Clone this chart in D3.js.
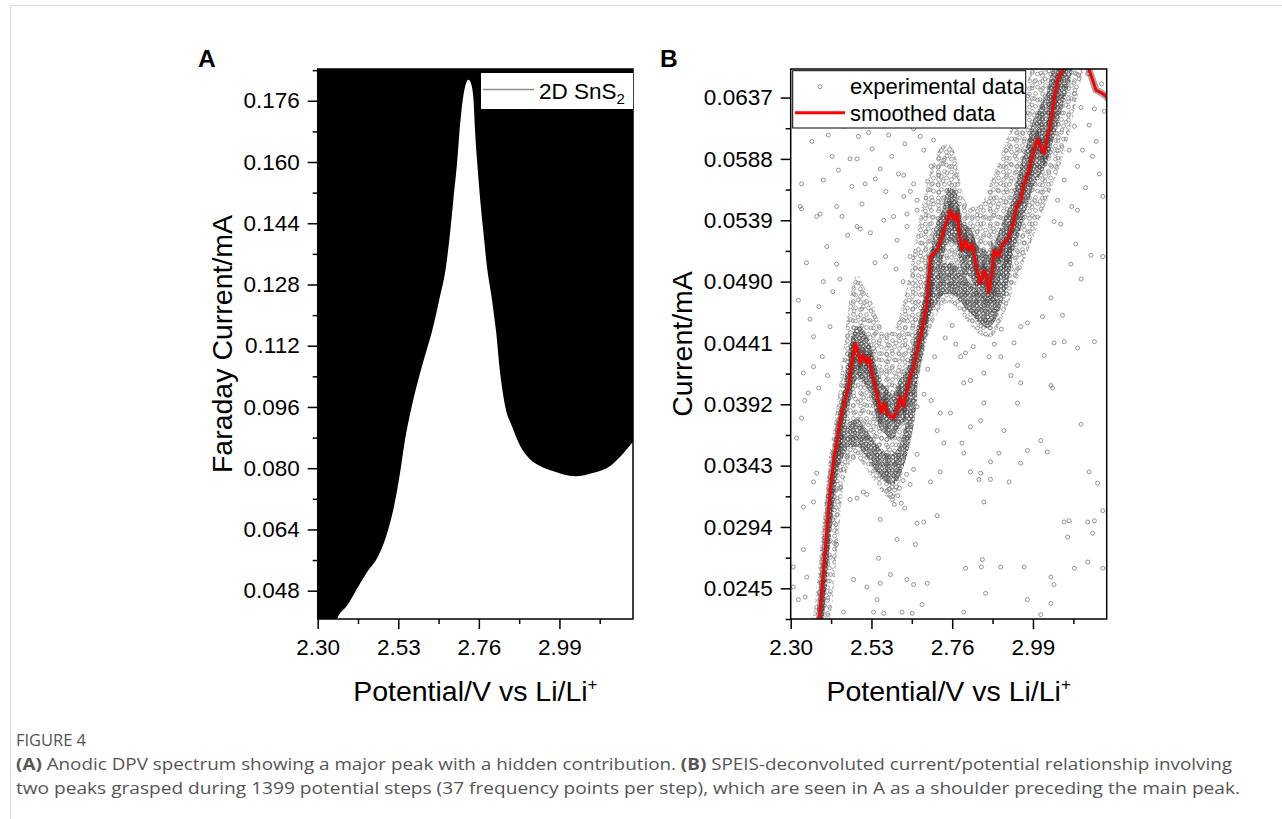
<!DOCTYPE html>
<html>
<head>
<meta charset="utf-8">
<script src="https://cdn.jsdelivr.net/npm/d3@7"></script>
<style>
  body { margin: 0; background: #fff; }
  svg { display: block; }
</style>
</head>
<body>
<svg id="fig" width="1282" height="819"></svg>
<script>
// ---- data ----
const xTicks = [2.30, 2.53, 2.76, 2.99];
const yTicksA = [0.048, 0.064, 0.080, 0.096, 0.112, 0.128, 0.144, 0.160, 0.176];
const yTicksB = [0.0245, 0.0294, 0.0343, 0.0392, 0.0441, 0.0490, 0.0539, 0.0588, 0.0637];

// panel A: anodic DPV curve (V, mA)
const dpvX = [2.300, 2.330, 2.3589, 2.3829, 2.4114, 2.4400, 2.4731, 2.4923, 2.5180, 2.5351, 2.5494, 2.5686,
  2.5923, 2.6037, 2.6257, 2.6474, 2.6666, 2.6780, 2.6874, 2.6971, 2.7046, 2.7143, 2.7222, 2.7303,
  2.7380, 2.7446, 2.7494, 2.7560, 2.7637, 2.7731, 2.7828, 2.7971, 2.8094, 2.8208, 2.8351, 2.8543,
  2.8780, 2.9066, 2.9351, 2.9731, 3.0351, 3.0874, 3.1351, 3.1731, 3.2017];
const dpvY = [0.0290, 0.0340, 0.0414, 0.0440, 0.0484, 0.0527, 0.0571, 0.0614, 0.0701, 0.0788, 0.0875, 0.0962,
  0.1049, 0.1086, 0.1155, 0.1242, 0.1329, 0.1416, 0.1503, 0.1590, 0.1677, 0.1764, 0.1802, 0.1815,
  0.1804, 0.1764, 0.1677, 0.1590, 0.1503, 0.1416, 0.1329, 0.1242, 0.1155, 0.1049, 0.0962, 0.0910,
  0.0858, 0.0823, 0.0806, 0.0792, 0.0779, 0.0788, 0.0806, 0.0840, 0.0871];

// panel B: smoothed current (V, mA)
const smoothX = [2.378, 2.3817, 2.3931, 2.4046, 2.4123, 2.4237, 2.4314, 2.4409, 2.4503, 2.4646, 2.4743, 2.4837,
  2.4931, 2.498, 2.5074, 2.5171, 2.5237, 2.5314, 2.5409, 2.5503, 2.5571, 2.5666, 2.5743, 2.5837,
  2.5931, 2.6028, 2.6123, 2.6217, 2.6294, 2.6409, 2.6503, 2.66, 2.6694, 2.6789, 2.6886, 2.698,
  2.7074, 2.7217, 2.736, 2.7551, 2.7646, 2.7743, 2.7817, 2.7886, 2.798, 2.8074, 2.8171, 2.8266,
  2.8409, 2.8503, 2.858, 2.8646, 2.8743, 2.8788, 2.8931, 2.9028, 2.9171, 2.9314, 2.9457, 2.9551,
  2.9646, 2.9789, 2.9931, 3.0028, 3.0123, 3.0217, 3.0314, 3.0409, 3.0503, 3.06, 3.0743, 3.081,
  3.110, 3.1437, 3.1503, 3.16, 3.1694, 3.1837, 3.198, 3.204];
const smoothY = [0.0215, 0.0220, 0.0257, 0.0297, 0.0323, 0.0350, 0.0361, 0.0379, 0.0390, 0.0406, 0.0425, 0.0441,
  0.0433, 0.0425, 0.0431, 0.0425, 0.0429, 0.0417, 0.0406, 0.0395, 0.0385, 0.0393, 0.0385, 0.0383,
  0.0381, 0.0387, 0.0398, 0.0390, 0.0401, 0.0414, 0.0422, 0.0435, 0.0446, 0.0459, 0.0473, 0.0510,
  0.0512, 0.0518, 0.0531, 0.0547, 0.0539, 0.0544, 0.0526, 0.0515, 0.0523, 0.0515, 0.0520, 0.0504,
  0.0488, 0.0499, 0.0494, 0.0481, 0.0499, 0.0515, 0.0510, 0.0520, 0.0523, 0.0534, 0.0552, 0.0555,
  0.0568, 0.0579, 0.0595, 0.0604, 0.0598, 0.0592, 0.0606, 0.0617, 0.0635, 0.0651, 0.0659, 0.0665,
  0.0690, 0.0667, 0.0659, 0.0651, 0.0643, 0.0641, 0.0638, 0.0636];

// panel B: envelope of the whole point cloud (mA)
const cloudX = [2.36, 2.37, 2.39, 2.41, 2.43, 2.45, 2.47, 2.49, 2.51, 2.53, 2.55, 2.57, 2.59, 2.61,
  2.63, 2.65, 2.67, 2.69, 2.71, 2.73, 2.75, 2.77, 2.79, 2.81, 2.83, 2.85, 2.87, 2.89, 2.91, 2.93,
  2.95, 2.97, 2.99, 3.01, 3.03, 3.05, 3.07, 3.09, 3.11, 3.13, 3.14];
const cloudLo = [0.0215, 0.0215, 0.0215, 0.0215, 0.0270, 0.0325, 0.0345, 0.0348, 0.0342, 0.0334, 0.0326, 0.0319,
  0.0316, 0.0328, 0.0353, 0.0385, 0.0420, 0.0445, 0.0460, 0.0470, 0.0473, 0.0470, 0.0463, 0.0456,
  0.0450, 0.0446, 0.0446, 0.0453, 0.0466, 0.0480, 0.0495, 0.0510, 0.0525, 0.0540, 0.0555, 0.0570,
  0.0585, 0.0605, 0.0630, 0.0655, 0.0670];
const cloudHi = [0.0218, 0.0235, 0.0295, 0.0350, 0.0388, 0.0435, 0.0480, 0.0495, 0.0485, 0.0475, 0.0460, 0.0450,
  0.0450, 0.0463, 0.0485, 0.0515, 0.0545, 0.0570, 0.0588, 0.0598, 0.0600, 0.0590, 0.0560, 0.0550,
  0.0550, 0.0555, 0.0570, 0.0585, 0.0600, 0.0615, 0.0630, 0.0645, 0.0665, 0.0670, 0.0670, 0.0670,
  0.0670, 0.0670, 0.0670, 0.0670, 0.0670];

// panel B: dense core that follows the smoothed line (mA)
const coreX = [2.375, 2.39, 2.41, 2.43, 2.45, 2.47, 2.49, 2.51, 2.53, 2.55, 2.57, 2.59, 2.61, 2.63,
  2.65, 2.67, 2.69, 2.71, 2.73, 2.75, 2.77, 2.79, 2.81, 2.83, 2.85, 2.87, 2.89, 2.91, 2.93, 2.95,
  2.97, 2.99, 3.01, 3.03, 3.05, 3.07, 3.09, 3.11, 3.12];
const coreLo = [0.0215, 0.0215, 0.0275, 0.0328, 0.0365, 0.0395, 0.0412, 0.0408, 0.0397, 0.0375, 0.0368, 0.0363,
  0.0375, 0.0380, 0.0400, 0.0424, 0.0452, 0.0490, 0.0504, 0.0522, 0.0520, 0.0496, 0.0494, 0.0480,
  0.0476, 0.0472, 0.0488, 0.0500, 0.0510, 0.0528, 0.0546, 0.0565, 0.0575, 0.0585, 0.0605, 0.0625,
  0.0645, 0.0665, 0.0670];
const coreHi = [0.0218, 0.0260, 0.0325, 0.0370, 0.0405, 0.0442, 0.0455, 0.0450, 0.0438, 0.0416, 0.0406, 0.0400,
  0.0412, 0.0420, 0.0442, 0.0466, 0.0496, 0.0532, 0.0546, 0.0565, 0.0562, 0.0536, 0.0534, 0.0520,
  0.0516, 0.0512, 0.0528, 0.0542, 0.0555, 0.0578, 0.0598, 0.0618, 0.0630, 0.0642, 0.0665, 0.0670,
  0.0670, 0.0670, 0.0670];

// panel B: the two lower "shadow" branches of the cloud (mA)
const ghost1X = [2.43, 2.45, 2.47, 2.49, 2.51, 2.53, 2.55, 2.57, 2.59, 2.61, 2.63, 2.65, 2.66];
const ghost1Lo = [0.0335, 0.0350, 0.0358, 0.0358, 0.0352, 0.0344, 0.0336, 0.0330, 0.0328, 0.0334, 0.0350, 0.0375, 0.0395];
const ghost1Hi = [0.0355, 0.0370, 0.0378, 0.0380, 0.0374, 0.0366, 0.0358, 0.0353, 0.0352, 0.0360, 0.0378, 0.0405, 0.0420];
const ghost2X = [2.68, 2.70, 2.72, 2.74, 2.76, 2.78, 2.80, 2.82, 2.84, 2.86, 2.88, 2.90, 2.92, 2.93];
const ghost2Lo = [0.0450, 0.0465, 0.0474, 0.0480, 0.0480, 0.0475, 0.0468, 0.0462, 0.0456, 0.0453, 0.0458, 0.0472, 0.0490, 0.0505];
const ghost2Hi = [0.0472, 0.0488, 0.0498, 0.0505, 0.0505, 0.0500, 0.0493, 0.0486, 0.0480, 0.0478, 0.0485, 0.0500, 0.0520, 0.0530];

// panel B: individual scattered experimental points (V, mA)
const expPoints = [
  [2.384,0.0645],[2.360,0.0602],[2.407,0.0607],[2.493,0.0606],[2.522,0.0609],[2.579,0.0607],[2.469,0.0588],
  [2.489,0.0588],[2.555,0.0580],[2.436,0.0579],[2.331,0.0568],[2.393,0.0571],[2.474,0.0566],[2.512,0.0568],
  [2.622,0.0575],[2.607,0.0576],[2.431,0.0550],[2.446,0.0542],[2.384,0.0544],[2.331,0.0548],[2.498,0.0532],
  [2.622,0.0558],[2.641,0.0562],[2.660,0.0555],[2.650,0.0568],[2.593,0.0542],[2.631,0.0544],[2.679,0.0595],
  [2.707,0.0603],[2.736,0.0587],[2.669,0.0606],[2.545,0.0624],[2.598,0.0617],[2.532,0.0596],[2.452,0.0614],
  [2.352,0.0633],[2.418,0.0590],[2.571,0.0562],[2.503,0.0552],[2.462,0.0527],[2.541,0.0572],[2.588,0.0590],
  [2.625,0.0600],[2.650,0.0612],[2.700,0.0582],[2.690,0.0570],[2.720,0.0575],
  [3.131,0.0595],[3.160,0.0590],[3.189,0.0558],[3.179,0.0576],[3.193,0.0626],[3.165,0.0628],[3.127,0.0629],
  [3.108,0.0614],[3.117,0.0582],[3.079,0.0571],[3.093,0.0595],[3.146,0.0656],[3.108,0.0640],[3.150,0.0615],
  [3.170,0.0602],[3.100,0.0550],[3.060,0.0555],[3.050,0.0538],[3.140,0.0565],[3.185,0.0648],[3.120,0.0655],
  [2.327,0.0550],[2.374,0.0542],[2.393,0.0490],[2.322,0.0475],[2.365,0.0446],[2.412,0.0454],[2.336,0.0417],
  [2.350,0.0401],[2.365,0.0422],[2.331,0.0381],[2.403,0.0518],[2.431,0.0504],[2.489,0.0534],[2.527,0.0529],
  [2.565,0.0539],[2.603,0.0523],[2.631,0.0534],[2.660,0.0547],[2.345,0.0505],[2.380,0.0470],[2.420,0.0482],
  [2.440,0.0492],[2.355,0.0460],[2.390,0.0430],[2.405,0.0415],[2.340,0.0395],[2.380,0.0405],[2.570,0.0510],
  [2.600,0.0500],[2.540,0.0505],[2.620,0.0490],[2.640,0.0510],
  [3.117,0.0547],[3.069,0.0536],[3.098,0.0504],[3.155,0.0511],[3.189,0.0510],[3.112,0.0520],[3.127,0.0492],
  [3.041,0.0477],[3.074,0.0463],[3.017,0.0462],[2.974,0.0457],[2.955,0.0454],[2.936,0.0441],[3.050,0.0441],
  [3.079,0.0442],[3.117,0.0437],[3.165,0.0442],[2.898,0.0430],[2.946,0.0423],[3.022,0.0431],[3.041,0.0407],
  [3.046,0.0405],[2.955,0.0409],[2.927,0.0415],[2.850,0.0417],[2.812,0.0411],[2.793,0.0409],[2.850,0.0393],
  [2.946,0.0393],[2.784,0.0430],[2.798,0.0433],[2.865,0.0430],[2.755,0.0385],[2.812,0.0374],[2.726,0.0385],
  [2.717,0.0371],[2.841,0.0379],[2.907,0.0371],[3.012,0.0363],[3.127,0.0376],[2.740,0.0445],[2.770,0.0440],
  [2.820,0.0438],[2.880,0.0440],[2.900,0.0452],[2.760,0.0455],[2.710,0.0430],[2.690,0.0420],[2.680,0.0400],
  [2.700,0.0395],[2.660,0.0390],
  [2.317,0.0365],[2.365,0.0330],[2.374,0.0337],[2.336,0.0310],[2.365,0.0314],[2.307,0.0262],[2.336,0.0276],
  [2.346,0.0254],[2.322,0.0236],[2.341,0.0238],[2.307,0.0246],[2.469,0.0316],[2.489,0.0317],[2.507,0.0322],
  [2.517,0.0320],[2.555,0.0300],[2.603,0.0284],[2.655,0.0280],[2.660,0.0297],[2.679,0.0298],[2.717,0.0303],
  [2.726,0.0338],[2.698,0.0330],[2.736,0.0361],[2.788,0.0361],[2.793,0.0353],[2.841,0.0337],[2.869,0.0346],
  [2.893,0.0353],[2.922,0.0330],[2.850,0.0314],[2.846,0.0268],[2.843,0.0262],[2.898,0.0262],[2.798,0.0261],
  [2.855,0.0241],[2.793,0.0226],[2.536,0.0226],[2.546,0.0236],[2.517,0.0246],[2.555,0.0249],[2.584,0.0256],
  [2.631,0.0252],[2.650,0.0248],[2.689,0.0249],[2.674,0.0232],[2.646,0.0225],[2.617,0.0226],[2.565,0.0225],
  [2.450,0.0226],[2.479,0.0252],[2.550,0.0269],[2.965,0.0262],[2.974,0.0236],[3.012,0.0224],[3.041,0.0254],
  [3.050,0.0248],[3.041,0.0233],[3.108,0.0261],[3.146,0.0266],[3.189,0.0261],[3.079,0.0298],[3.093,0.0299],
  [3.089,0.0286],[3.146,0.0298],[3.165,0.0299],[3.160,0.0289],[3.189,0.0307],[3.174,0.0329],[3.150,0.0338],
  [3.031,0.0354],[2.974,0.0355],[2.955,0.0345],[2.869,0.0332],[2.812,0.0338],[2.836,0.0332],
  [2.550,0.0342],[2.560,0.0336],[2.570,0.0332],[2.580,0.0324],[2.585,0.0320],[2.590,0.0316],[2.595,0.0312],
  [2.605,0.0319],[2.610,0.0325],[2.620,0.0331],[2.630,0.0336],[2.600,0.0326],[2.615,0.0313],[2.625,0.0309],
  [2.640,0.0328],[2.650,0.0340],[2.660,0.0352],[2.420,0.0300],[2.440,0.0325],[2.450,0.0340],[2.430,0.0280],
  [2.460,0.0350]
];

// ---- drawing ----
const font = '"Liberation Sans", Arial, sans-serif';
const svg = d3.select('#fig');
const plotTop = 69, plotBottom = 619;

const xA = d3.scaleLinear().domain([2.30, 3.20]).range([317.7, 633]);
const yA = d3.scaleLinear().domain([0.0406, 0.1843]).range([plotBottom, plotTop]);
const xB = d3.scaleLinear().domain([2.30, 3.20]).range([790.7, 1106.7]);
const yB = d3.scaleLinear().domain([0.02205, 0.06598]).range([plotBottom, plotTop]);

// figure container edges
svg.append('line').attr('x1', 10).attr('x2', 1282).attr('y1', 5.5).attr('y2', 5.5)
  .attr('stroke', '#dcdcdc').attr('stroke-width', 1);
svg.append('line').attr('x1', 10.5).attr('x2', 10.5).attr('y1', 5).attr('y2', 819)
  .attr('stroke', '#dcdcdc').attr('stroke-width', 1);

const defs = svg.append('defs');
function clip(id, x) {
  defs.append('clipPath').attr('id', id).append('rect')
    .attr('x', x.range()[0]).attr('y', plotTop)
    .attr('width', x.range()[1] - x.range()[0]).attr('height', plotBottom - plotTop);
}
clip('clipA', xA);
clip('clipB', xB);

// textures of open circles for the dense parts of the point cloud
function dotPattern(id, size, dots, colour) {
  const p = defs.append('pattern').attr('id', id).attr('patternUnits', 'userSpaceOnUse')
    .attr('width', size).attr('height', size);
  p.selectAll('circle').data(dots).enter().append('circle')
    .attr('cx', d => d[0]).attr('cy', d => d[1]).attr('r', 1.9)
    .attr('fill', 'none').attr('stroke', colour).attr('stroke-width', 0.7);
}
dotPattern('light1', 13, [[2.5, 3], [8.5, 2.5], [5.5, 7.5], [10.5, 9], [2.5, 10.5]], '#7b7b7b');
dotPattern('light2', 17, [[4, 5], [12, 3], [8, 11], [14.5, 13.5], [3, 14.5]], '#7b7b7b');
dotPattern('dark1', 9, [[2.3, 2.3], [6.7, 2.1], [4.5, 5.2], [2.1, 7.1], [6.9, 6.9]], '#474747');
dotPattern('dark2', 11, [[3, 2.5], [8, 4], [5, 8.5], [9, 9]], '#474747');

function axes(g, x, y, yTicks, yFmt) {
  const xStep = xTicks[1] - xTicks[0];
  const yStep = yTicks[1] - yTicks[0];
  const xMinor = xTicks.map(d => d + xStep / 2).filter(d => d <= x.domain()[1]);
  const yMinor = [yTicks[0] - yStep / 2].concat(yTicks.map(d => d + yStep / 2))
    .filter(d => d >= y.domain()[0] - 1e-9 && d <= y.domain()[1] + 1e-4);

  g.append('g').attr('transform', `translate(0,${plotBottom})`)
    .call(d3.axisBottom(x).tickValues(xTicks).tickSize(10).tickPadding(10).tickFormat(d3.format('.2f')));
  g.append('g').attr('transform', `translate(0,${plotBottom})`)
    .call(d3.axisBottom(x).tickValues(xMinor).tickSize(5).tickFormat(''));
  g.append('g').attr('transform', `translate(${x.range()[0]},0)`)
    .call(d3.axisLeft(y).tickValues(yTicks).tickSize(10).tickPadding(8).tickFormat(yFmt));
  g.append('g').attr('transform', `translate(${x.range()[0]},0)`)
    .call(d3.axisLeft(y).tickValues(yMinor).tickSize(5).tickFormat(''));

  g.selectAll('.domain').remove();
  g.selectAll('.tick line').attr('stroke', '#000').attr('stroke-width', 1.5);
  g.selectAll('g').attr('font-family', font).attr('font-size', 22.5);
  g.selectAll('.tick text').attr('fill', '#000');

  g.append('rect')
    .attr('x', x.range()[0]).attr('y', plotTop)
    .attr('width', x.range()[1] - x.range()[0]).attr('height', plotBottom - plotTop)
    .attr('fill', 'none').attr('stroke', '#000').attr('stroke-width', 1.5);
}

function xTitle(g, x) {
  const t = g.append('text')
    .attr('x', (x.range()[0] + x.range()[1]) / 2).attr('y', 701)
    .attr('text-anchor', 'middle').attr('font-family', font).attr('font-size', 28.5);
  t.append('tspan').text('Potential/V vs Li/Li');
  t.append('tspan').text('+').attr('font-size', 17).attr('dy', -11);
}
function yTitle(g, xPos, label) {
  g.append('text')
    .attr('transform', `translate(${xPos},${(plotTop + plotBottom) / 2}) rotate(-90)`)
    .attr('text-anchor', 'middle').attr('font-family', font).attr('font-size', 28.5)
    .text(label);
}

// ---------- panel A ----------
const gA = svg.append('g');
const dpv = dpvX.map((d, i) => [d, dpvY[i]]);
gA.append('g').attr('clip-path', 'url(#clipA)')
  .append('path').datum(dpv)
  .attr('d', d3.area().x(d => xA(d[0])).y0(plotTop - 5).y1(d => yA(d[1])).curve(d3.curveMonotoneX))
  .attr('fill', '#000');
axes(gA, xA, yA, yTicksA, d3.format('.3f'));
xTitle(gA, xA);
yTitle(gA, 232, 'Faraday Current/mA');
gA.append('text').attr('x', 198).attr('y', 67).attr('font-family', font)
  .attr('font-weight', 'bold').attr('font-size', 24.5).text('A');

// legend A
gA.append('rect').attr('x', 481).attr('y', 73).attr('width', 152).attr('height', 36)
  .attr('fill', '#fff');
gA.append('line').attr('x1', 483).attr('x2', 534).attr('y1', 89.5).attr('y2', 89.5)
  .attr('stroke', '#8c8c8c').attr('stroke-width', 1.3);
const legA = gA.append('text').attr('x', 539).attr('y', 99).attr('font-family', font).attr('font-size', 22.5);
legA.append('tspan').text('2D SnS');
legA.append('tspan').text('2').attr('font-size', 15).attr('dy', 5);

// ---------- panel B ----------
const gB = svg.append('g');
const plotB = gB.append('g').attr('clip-path', 'url(#clipB)');

const band = d3.area().x(d => xB(d[0])).y0(d => yB(d[1])).y1(d => yB(d[2])).curve(d3.curveMonotoneX);
function texturedBand(xs, lo, hi, fills) {
  const rows = xs.map((d, i) => [d, lo[i], hi[i]]);
  fills.forEach(f => plotB.append('path').datum(rows).attr('d', band).attr('fill', `url(#${f})`));
}
texturedBand(cloudX, cloudLo, cloudHi, ['light1', 'light2']);
texturedBand(ghost1X, ghost1Lo, ghost1Hi, ['dark1', 'dark2']);
texturedBand(ghost2X, ghost2Lo, ghost2Hi, ['dark1', 'dark2']);
texturedBand(coreX, coreLo, coreHi, ['dark1', 'dark2']);

plotB.selectAll('circle.exp').data(expPoints).enter().append('circle')
  .attr('class', 'exp')
  .attr('cx', d => xB(d[0])).attr('cy', d => yB(d[1])).attr('r', 2)
  .attr('fill', 'none').attr('stroke', '#7a7a7a').attr('stroke-width', 0.8);

const smooth = smoothX.map((d, i) => [d, smoothY[i]]);
const smoothLine = d3.line().x(d => xB(d[0])).y(d => yB(d[1]));
plotB.append('path').datum(smooth).attr('d', smoothLine)
  .attr('fill', 'none').attr('stroke', '#222').attr('stroke-opacity', 0.4).attr('stroke-width', 7);
plotB.append('path').datum(smooth).attr('d', smoothLine)
  .attr('fill', 'none').attr('stroke', '#ff0000').attr('stroke-width', 3).attr('stroke-linejoin', 'round');

axes(gB, xB, yB, yTicksB, d3.format('.4f'));
xTitle(gB, xB);
yTitle(gB, 692, 'Current/mA');
gB.append('text').attr('x', 660).attr('y', 67).attr('font-family', font)
  .attr('font-weight', 'bold').attr('font-size', 24.5).text('B');

// legend B
gB.append('rect').attr('x', 792.7).attr('y', 70.7).attr('width', 233).attr('height', 57.3)
  .attr('fill', '#fff').attr('stroke', '#000').attr('stroke-width', 1);
gB.append('circle').attr('cx', 820).attr('cy', 86.7).attr('r', 2)
  .attr('fill', 'none').attr('stroke', '#7a7a7a').attr('stroke-width', 0.8);
gB.append('line').attr('x1', 795).attr('x2', 845).attr('y1', 112.7).attr('y2', 112.7)
  .attr('stroke', '#ff0000').attr('stroke-width', 3);
gB.append('text').attr('x', 850).attr('y', 94).attr('font-family', font).attr('font-size', 22)
  .text('experimental data');
gB.append('text').attr('x', 850).attr('y', 121).attr('font-family', font).attr('font-size', 22)
  .text('smoothed data');

// ---------- caption ----------
const capFont = '"Open Sans", "Noto Sans", sans-serif';
svg.append('text').attr('x', 16).attr('y', 746).attr('font-family', capFont).attr('font-size', 16)
  .attr('fill', '#555').attr('textLength', 70).attr('lengthAdjust', 'spacingAndGlyphs').text('FIGURE 4');
const cap1 = svg.append('text').attr('x', 16).attr('y', 770).attr('font-family', capFont)
  .attr('font-size', 16).attr('fill', '#555').attr('textLength', 1216).attr('lengthAdjust', 'spacingAndGlyphs');
cap1.append('tspan').attr('font-weight', 'bold').text('(A)');
cap1.append('tspan').text(' Anodic DPV spectrum showing a major peak with a hidden contribution. ');
cap1.append('tspan').attr('font-weight', 'bold').text('(B)');
cap1.append('tspan').text(' SPEIS-deconvoluted current/potential relationship involving');
svg.append('text').attr('x', 16).attr('y', 794).attr('font-family', capFont).attr('font-size', 16)
  .attr('fill', '#555').attr('textLength', 1224).attr('lengthAdjust', 'spacingAndGlyphs')
  .text('two peaks grasped during 1399 potential steps (37 frequency points per step), which are seen in A as a shoulder preceding the main peak.');
</script>
</body>
</html>
